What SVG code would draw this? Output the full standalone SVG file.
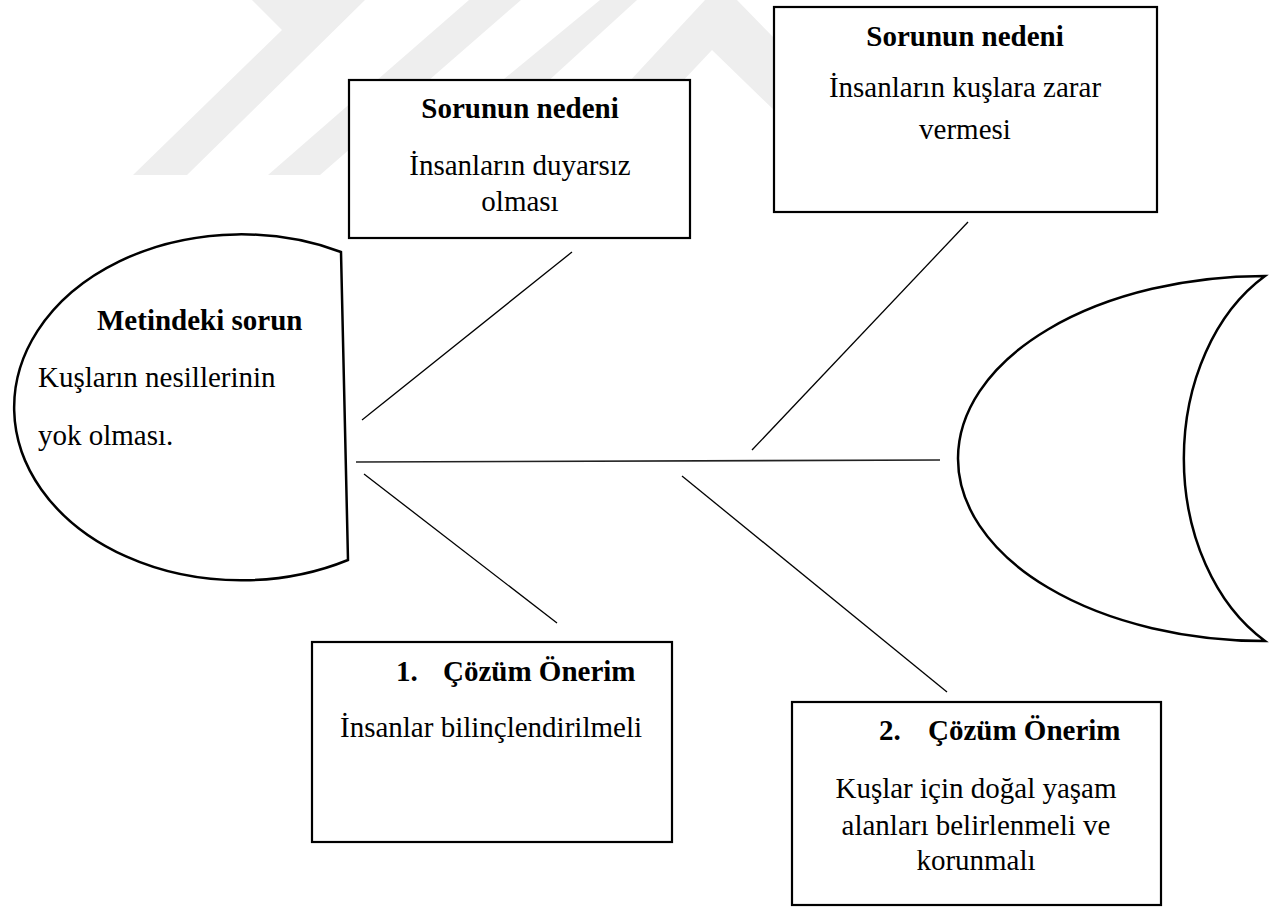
<svg xmlns="http://www.w3.org/2000/svg" width="1274" height="908" viewBox="0 0 1274 908">
<style>
.wm{fill:#eeeeee;stroke:none}
.box{fill:#ffffff;stroke:#000000;stroke-width:2.2}
.shape{fill:#ffffff;stroke:#000000;stroke-width:2.5;stroke-linejoin:miter}
.bone{stroke:#000000;stroke-width:1.3;fill:none}
.spine{stroke:#222222;stroke-width:1.6;fill:none}
text{font-family:"Liberation Serif","Times New Roman",serif;font-size:29px;fill:#000000}
.b{font-weight:bold}
.c{text-anchor:middle}
</style>
<rect x="0" y="0" width="1274" height="908" fill="#ffffff"/>
<g id="watermark">
<polygon class="wm" points="133,175 282,30 252,0 365,0 187,175"/>
<polygon class="wm" points="268,175 320,175 521,0 469,0"/>
<polygon class="wm" points="498,84 545,84 637,0 600,0"/>
<polygon class="wm" points="627,84 705,0 737,0 776,40 776,112 712,50 680,84"/>
</g>
<g id="connectors">
<line class="spine" x1="356" y1="462" x2="940" y2="460"/>
<line class="bone" x1="362" y1="420" x2="572" y2="252"/>
<line class="bone" x1="752" y1="450" x2="968" y2="222"/>
<line class="bone" x1="364" y1="474" x2="557" y2="623"/>
<line class="bone" x1="682" y1="476" x2="947" y2="692"/>
</g>
<g id="head">
<path class="shape" d="M341,252 A227,173 0 1 0 348,560 Z"/>
<text class="b" x="97" y="330">Metindeki sorun</text>
<text x="38" y="387">Kuşların nesillerinin</text>
<text x="38" y="445">yok olması.</text>
</g>
<g id="tail">
<path class="shape" d="M1265,276 A307,182.5 0 0 0 1265,641 A156,208 0 0 1 1265,276 Z"/>
</g>
<g id="cause1">
<rect class="box" x="349" y="80" width="341" height="158"/>
<text class="b c" x="520" y="118">Sorunun nedeni</text>
<text class="c" x="520" y="175">İnsanların duyarsız</text>
<text class="c" x="520" y="211">olması</text>
</g>
<g id="cause2">
<rect class="box" x="774" y="7" width="383" height="205"/>
<text class="b c" x="965" y="46">Sorunun nedeni</text>
<text class="c" x="965" y="97">İnsanların kuşlara zarar</text>
<text class="c" x="965" y="139">vermesi</text>
</g>
<g id="solution1">
<rect class="box" x="312" y="642" width="360" height="200"/>
<text class="b" y="681"><tspan x="396">1.</tspan><tspan x="443">Çözüm Önerim</tspan></text>
<text class="c" x="491" y="737">İnsanlar bilinçlendirilmeli</text>
</g>
<g id="solution2">
<rect class="box" x="792" y="702" width="369" height="203"/>
<text class="b" y="740"><tspan x="879">2.</tspan><tspan x="928">Çözüm Önerim</tspan></text>
<text class="c" x="976" y="798">Kuşlar için doğal yaşam</text>
<text class="c" x="976" y="835">alanları belirlenmeli ve</text>
<text class="c" x="976" y="870">korunmalı</text>
</g>
</svg>
